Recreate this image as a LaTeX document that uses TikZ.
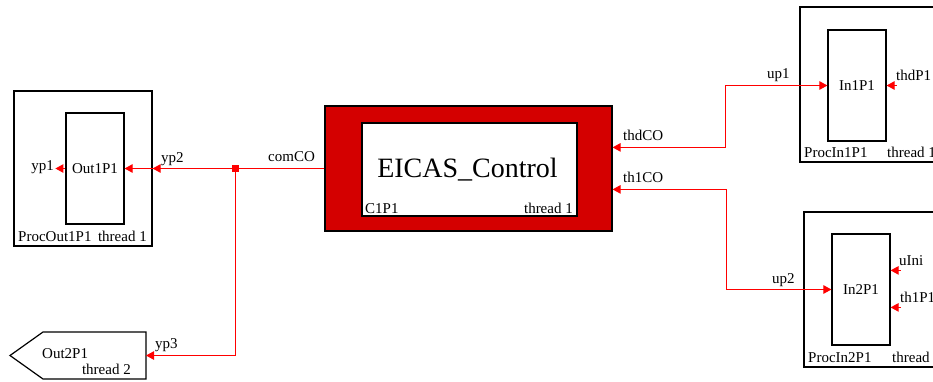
\documentclass[tikz,border=0pt]{standalone}
\usepackage{fontspec}
\setmainfont{Liberation Serif}
\usetikzlibrary{arrows.meta,positioning,calc}
\definecolor{ctrlred}{RGB}{212,0,0}

\begin{document}
\begin{tikzpicture}[x=1pt, y=-1pt,
    proc/.style={rectangle, draw, line width=1.2pt, minimum width=138pt, minimum height=155pt, inner sep=0pt},
    thr/.style={rectangle, draw, line width=1.2pt, minimum width=58pt, minimum height=111pt, inner sep=0pt, font=\fontsize{15}{17}\selectfont},
    lbl/.style={inner sep=0pt, font=\fontsize{15}{17}\selectfont},
    sig/.style={red, line width=1pt},
    arr/.style={sig, -{Triangle[length=8pt,width=8.5pt]}},
    dbl/.style={sig, {Triangle[length=8pt,width=8.5pt]}-{Triangle[length=8pt,width=8.5pt]}}
  ]
  \useasboundingbox (0,0) rectangle (933,381);
  \clip (0,0) rectangle (933,381);

  % output side
  \node[proc] (po1) at (83,168.5) {};
  \node[thr] (out1) at (95,168.5) {Out1P1};
  \node[lbl, anchor=base west] (po1name) at (18,241) {ProcOut1P1};
  \node[lbl, anchor=base east] (po1thr) at (147,241) {thread 1};
  \node[lbl, anchor=base east] (yp1) at (54,170) {yp1};
  \node[lbl, anchor=base west] (yp2) at (161,162) {yp2};

  \draw[line width=1.2pt] (146,332) -- (43,332) -- (10,355.5) -- (43,379) -- (146,379) -- cycle;
  \coordinate (out2port) at (146,355.5);
  \node[lbl, anchor=base west] (out2) at (42,358) {Out2P1};
  \node[lbl, anchor=base east] (out2thr) at (131,374) {thread 2};
  \node[lbl, anchor=base west] (yp3) at (155,348) {yp3};

  % controller
  \node[draw, line width=1.2pt, fill=ctrlred, minimum width=287pt, minimum height=125pt] (c1p1) at (468.5,168.5) {};
  \node[draw, line width=1.2pt, fill=white, minimum width=215pt, minimum height=93pt] (eicas) at (469.5,169.5) {};
  \node[inner sep=0pt, anchor=base, font=\fontsize{28}{30}\selectfont] (eicasname) at (467.5,177) {EICAS\_Control};
  \node[lbl, anchor=base west] (c1name) at (365,213) {C1P1};
  \node[lbl, anchor=base east] (c1thr) at (573,213) {thread 1};
  \node[lbl, anchor=base west] (comco) at (268,161) {comCO};
  \node[lbl, anchor=base west] (thdco) at (623,140) {thdCO};
  \node[lbl, anchor=base west] (th1co) at (623,182) {th1CO};
  \coordinate (thdport) at ($(c1p1.north east)+(0,42)$);
  \coordinate (th1port) at ($(c1p1.north east)+(0,84)$);

  % input side
  \node[proc] (pi1) at (869,84.5) {};
  \node[thr] (in1) at (857,85.5) {In1P1};
  \node[lbl, anchor=base west] (pi1name) at (804,157) {ProcIn1P1};
  \node[lbl, anchor=base west] (pi1thr) at (887,157) {thread 1};
  \node[lbl, anchor=base west] (up1) at (767,78) {up1};
  \node[lbl, anchor=base west] (thdp1) at (896,80) {thdP1};

  \node[proc] (pi2) at (873,289.5) {};
  \node[thr] (in2) at (861,289.5) {In2P1};
  \node[lbl, anchor=base west] (pi2name) at (808,362) {ProcIn2P1};
  \node[lbl, anchor=base west] (pi2thr) at (892,362) {thread};
  \node[lbl, anchor=base west] (up2) at (772,283) {up2};
  \node[lbl, anchor=base west] (uini) at (899,265) {uIni};
  \node[lbl, anchor=base west] (th1p1) at (900,302) {th1P1};

  % signals
  \node[fill=red, minimum size=7pt, inner sep=0pt] (jn) at (235,168.5) {};
  \draw[sig] (c1p1.west) -- (jn.center);
  \draw[arr] (jn.center) -- (po1.east);
  \draw[arr] (po1.east) -- (out1.east);
  \draw[arr] (out1.west) -- ++(-10,0);
  \draw[arr] (jn.center) |- (out2port);

  \draw[dbl] (in1.west) -- ++(-102,0) |- (thdport);
  \draw[dbl] (in2.west) -- ++(-105,0) |- (th1port);
  \draw[arr] ($(in1.east)+(10,0)$) -- (in1.east);
  \draw[arr] ($(in2.north east)+(10,37)$) -- ++(-10,0);
  \draw[arr] ($(in2.north east)+(10,74)$) -- ++(-10,0);
\end{tikzpicture}
\end{document}
